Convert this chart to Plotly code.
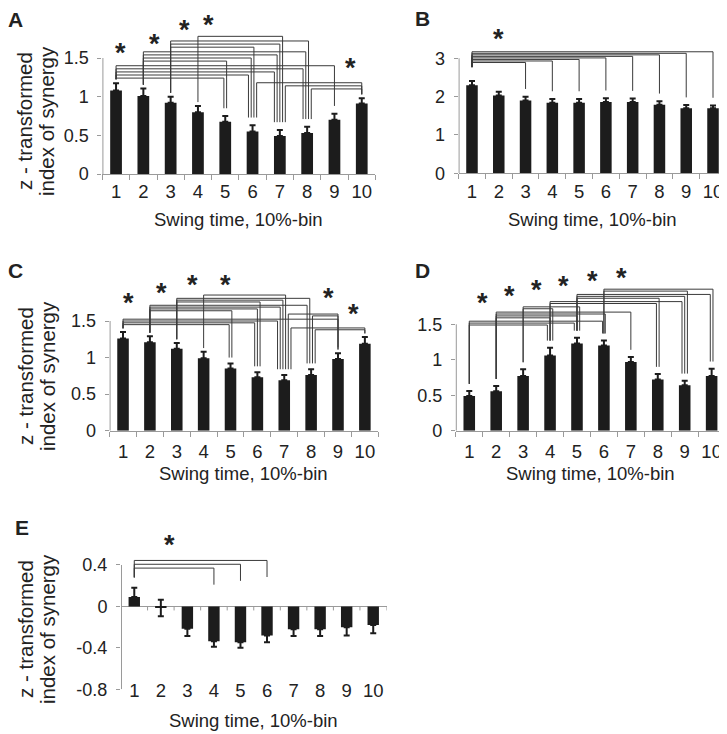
import plotly.graph_objects as go

# reference canvas (pixels) and page offset (browser body margin)
W, H = 727, 734
OFF = 8
FW, FH = W - OFF, H - OFF
FONT = "Liberation Sans, Arial, Helvetica, sans-serif"
BAR = "#1c1c1c"
AXIS = "#9a9a9a"
TXT = "#222222"
LINE = "#3a3a3a"

# ---------------- data ----------------
bins = [str(i) for i in range(1, 11)]
x_title = "Swing time, 10%-bin"
y_title_lines = ["z - transformed", "index of synergy"]

a_vals = [1.08, 1.01, 0.92, 0.80, 0.675, 0.55, 0.49, 0.53, 0.70, 0.91]
a_err = [0.095, 0.095, 0.08, 0.08, 0.075, 0.08, 0.08, 0.08, 0.08, 0.07]
a_ticks = [0, 0.5, 1, 1.5]
a_ticktext = ["0", "0.5", "1", "1.5"]
a_groups = [(10, [6, 7, 8]), (1, [5, 6, 7, 8, 9]), (2, [5, 6, 7, 8]), (3, [6, 7, 8]), (4, [7])]
a_star_x = [1.18, 2.41, 3.51, 4.39, 9.57]
a_star_y = [1.64, 1.755, 1.94, 2.01, 1.45]

b_vals = [2.30, 2.03, 1.90, 1.84, 1.84, 1.86, 1.86, 1.79, 1.70, 1.70]
b_err = [0.11, 0.10, 0.10, 0.10, 0.10, 0.10, 0.09, 0.09, 0.08, 0.07]
b_ticks = [0, 1, 2, 3]
b_ticktext = ["0", "1", "2", "3"]
b_groups = [(1, [3, 4, 5, 6, 7, 8, 9, 10])]
b_star_x = [1.98]
b_star_y = [3.65]

c_vals = [1.26, 1.21, 1.12, 0.99, 0.85, 0.73, 0.69, 0.76, 0.98, 1.19]
c_err = [0.09, 0.08, 0.08, 0.09, 0.07, 0.07, 0.07, 0.08, 0.08, 0.09]
c_ticks = [0, 0.5, 1, 1.5]
c_ticktext = ["0", "0.5", "1", "1.5"]
c_groups = [(10, [7, 8]), (1, [5, 6, 7, 9]), (9, [7, 8]), (2, [5, 6, 7, 8]), (3, [6, 7, 8]), (4, [7])]
c_star_x = [1.20, 2.43, 3.59, 4.82, 8.65, 9.59]
c_star_y = [1.83, 1.96, 2.08, 2.08, 1.89, 1.68]

d_vals = [0.49, 0.555, 0.77, 1.06, 1.23, 1.20, 0.97, 0.72, 0.64, 0.77]
d_err = [0.07, 0.075, 0.095, 0.11, 0.08, 0.07, 0.07, 0.08, 0.065, 0.105]
d_ticks = [0, 0.5, 1, 1.5]
d_ticktext = ["0", "0.5", "1", "1.5"]
d_groups = [(1, [4, 5, 6]), (2, [4, 5, 6, 7]), (3, [4, 5]), (4, [8, 9]), (5, [8, 9, 10]), (6, [9, 10])]
d_star_x = [1.48, 2.49, 3.48, 4.49, 5.59, 6.67]
d_star_y = [1.88, 1.98, 2.07, 2.12, 2.20, 2.24]

e_vals = [0.09, -0.015, -0.215, -0.335, -0.345, -0.28, -0.22, -0.22, -0.20, -0.18]
e_err = [0.09, 0.08, 0.07, 0.055, 0.055, 0.065, 0.065, 0.065, 0.08, 0.08]
e_ticks = [-0.8, -0.4, 0, 0.4]
e_ticktext = ["-0.8", "-0.4", "0", "0.4"]
e_groups = [(1, [4, 5, 6])]
e_star_x = [2.34]
e_star_y = [0.653]

# ---------------- layout parameters (reference pixel positions) ----------------
panels = [
    dict(label="A", vals=a_vals, err=a_err, ticks=a_ticks, ticktext=a_ticktext, groups=a_groups,
         sx=a_star_x, sy=a_star_y, xpx=(102.4, 375.4), ycal=(0, 174.0, 1.5, 58.0), yrange=(0, 2.12),
         axis_span=(0, 1.5), br=dict(base=1.10, step=0.04, gap=0.02, src=0.05, tgt=0.10, maxdrop=None),
         letter=(15.5, 20), ytitle_y=121, xtitle_y=219, ytitle=True, xstand=1),
    dict(label="B", vals=b_vals, err=b_err, ticks=b_ticks, ticktext=b_ticktext, groups=b_groups,
         sx=b_star_x, sy=b_star_y, xpx=(458.6, 726.4), ycal=(0, 173.3, 3, 58.3), yrange=(0, 3.75),
         axis_span=(0, 3), br=dict(base=2.89, step=0.04, gap=0.0, src=0.36, tgt=0.2, maxdrop=None),
         letter=(423, 19), ytitle_y=None, xtitle_y=219, ytitle=False, xstand=1),
    dict(label="C", vals=c_vals, err=c_err, ticks=c_ticks, ticktext=c_ticktext, groups=c_groups,
         sx=c_star_x, sy=c_star_y, xpx=(109.6, 378.3), ycal=(0, 430.7, 1.5, 321.0), yrange=(0, 2.15),
         axis_span=(0, 1.5), br=dict(base=1.38, step=0.025, gap=0.02, src=0.05, tgt=0.08, maxdrop=None),
         letter=(15.5, 270), ytitle_y=376, xtitle_y=473, ytitle=True, xstand=4),
    dict(label="D", vals=d_vals, err=d_err, ticks=d_ticks, ticktext=d_ticktext, groups=d_groups,
         sx=d_star_x, sy=d_star_y, xpx=(455.8, 725.1), ycal=(0, 430.7, 1.5, 324.3), yrange=(0, 2.3),
         axis_span=(0, 1.5), br=dict(base=1.49, step=0.027, gap=0.02, src=0.1, tgt=0.1, maxdrop=None),
         letter=(423, 270), ytitle_y=None, xtitle_y=473, ytitle=False, xstand=4),
    dict(label="E", vals=e_vals, err=e_err, ticks=e_ticks, ticktext=e_ticktext, groups=e_groups,
         sx=e_star_x, sy=e_star_y, xpx=(121.0, 386.5), ycal=(0.4, 565.0, -0.8, 689.3), yrange=(-0.8, 0.7),
         axis_span=(-0.8, 0.4), br=dict(base=0.37, step=0.037, gap=0.0, src=0.10, tgt=0.10, maxdrop=0.16),
         letter=(21.5, 527.5), ytitle_y=629, xtitle_y=720, ytitle=True, xstand=0),
]


def px_x(x):
    return (x - OFF) / FW


def px_y(y):
    return 1 - (y - OFF) / FH


def ydomain(ycal, yrange):
    v0, p0, v1, p1 = ycal
    k = (p0 - p1) / (v1 - v0)
    bottom = p0 + (v0 - yrange[0]) * k
    top = p0 - (yrange[1] - v0) * k
    return [px_y(bottom), px_y(top)], k


fig = go.Figure()
layout = dict(
    width=FW, height=FH, margin=dict(l=0, r=0, t=0, b=0, autoexpand=False),
    paper_bgcolor="white", plot_bgcolor="white",
    showlegend=False, bargap=0.57,
    font=dict(family=FONT, size=18, color=TXT),
)
shapes = []
annotations = []

for n, p in enumerate(panels, start=1):
    xa = "x" if n == 1 else f"x{n}"
    ya = "y" if n == 1 else f"y{n}"
    xkey = "xaxis" if n == 1 else f"xaxis{n}"
    ykey = "yaxis" if n == 1 else f"yaxis{n}"
    vals, err = p["vals"], p["err"]
    neg = p["label"] == "E"

    plus = [e if (v >= 0 or abs(v) < e) else 0 for v, e in zip(vals, err)]
    minus = [e if (v < 0 or abs(v) < e) else 0 for v, e in zip(vals, err)]

    fig.add_trace(go.Bar(
        x=bins, y=vals, xaxis=xa, yaxis=ya, marker=dict(color=BAR, line=dict(width=0)),
        error_y=dict(type="data", symmetric=False, array=plus, arrayminus=minus,
                     color=BAR, thickness=2, width=3),
        hoverinfo="x+y",
    ))

    ydom, kpx = ydomain(p["ycal"], p["yrange"])
    x0p, x1p = p["xpx"]
    xdict = dict(domain=[px_x(x0p), min(px_x(x1p), 1.0)], type="category", range=[-0.5, 9.5],
                 showgrid=False, zeroline=False, tickfont=dict(size=18.5, color=TXT),
                 tickangle=0, automargin=False, fixedrange=True)
    if neg:
        # tick labels sit at the bottom of the panel, axis line is the zero line
        xdict.update(anchor="free", position=px_y(677.0), showline=False, ticks="")
    else:
        xdict.update(anchor=ya, showline=True, linecolor=AXIS, linewidth=1,
                     ticks="outside", tickson="boundaries", ticklen=5, tickcolor=AXIS,
                     ticklabelstandoff=p["xstand"])
    layout[xkey] = xdict
    layout[ykey] = dict(
        domain=ydom, anchor=xa, range=list(p["yrange"]), showgrid=False,
        zeroline=neg, zerolinecolor=AXIS, zerolinewidth=1,
        showline=False, ticks="outside", ticklen=4, tickcolor=AXIS,
        tickmode="array", tickvals=p["ticks"], ticktext=p["ticktext"],
        tickfont=dict(size=18, color=TXT), ticklabelstandoff=5, automargin=False, fixedrange=True,
    )

    # y axis line (only up to the top tick)
    shapes.append(dict(type="line", xref=xa, yref=ya, x0=-0.5, x1=-0.5,
                       y0=p["axis_span"][0], y1=p["axis_span"][1],
                       line=dict(color=AXIS, width=2)))
    if neg:
        for k in range(11):
            shapes.append(dict(type="line", xref=xa, yref=ya, x0=k - 0.5, x1=k - 0.5,
                               y0=0, y1=-4.0 / kpx, line=dict(color=AXIS, width=1)))

    # significance brackets
    br = p["br"]

    def errtop(i):
        return max(vals[i - 1] + plus[i - 1], 0)

    incoming = {}
    for src, tg in p["groups"]:
        for t in tg:
            incoming.setdefault(t, []).append(src)
    for t in incoming:
        incoming[t].sort()

    cur = br["base"]
    for src, tg in p["groups"]:
        for t in sorted(tg, key=lambda t: abs(t - src)):
            level = cur
            cur += br["step"]
            srcs = incoming[t]
            off = (srcs.index(src) - (len(srcs) - 1) / 2) * 0.1
            xs, xt = src - 1, t - 1 + off
            ys0 = errtop(src) + br["src"]
            yt0 = errtop(t) + br["tgt"]
            if br["maxdrop"] is not None:
                yt0 = max(yt0, level - br["maxdrop"])
            for (ax0, ay0, ax1, ay1) in [(xs, ys0, xs, level), (xs, level, xt, level), (xt, level, xt, yt0)]:
                shapes.append(dict(type="line", xref=xa, yref=ya, x0=ax0, y0=ay0, x1=ax1, y1=ay1,
                                   line=dict(color=LINE, width=1)))
        cur += br["gap"]

    # asterisks
    for sx, sy in zip(p["sx"], p["sy"]):
        annotations.append(dict(xref=xa, yref=ya, x=sx - 1, y=sy, text="<b>*</b>", showarrow=False,
                                font=dict(size=27, color=TXT, family=FONT), yshift=-6))

    # panel letter
    lx, ly = p["letter"]
    annotations.append(dict(xref="paper", yref="paper", x=px_x(lx), y=px_y(ly),
                            text="<b>%s</b>" % p["label"], showarrow=False,
                            font=dict(size=21, color=TXT, family=FONT),
                            xanchor="center", yanchor="middle"))
    # x title
    annotations.append(dict(xref="paper", yref="paper", x=px_x((x0p + x1p) / 2), y=px_y(p["xtitle_y"]),
                            text=x_title, showarrow=False, font=dict(size=18.5, color=TXT, family=FONT),
                            xanchor="center", yanchor="middle"))
    # y title (two lines)
    if p["ytitle"]:
        for xpos, line in zip([25, 47], y_title_lines):
            annotations.append(dict(xref="paper", yref="paper", x=px_x(xpos), y=px_y(p["ytitle_y"]),
                                    text=line, textangle=-90, showarrow=False,
                                    font=dict(size=20.5, color=TXT, family=FONT),
                                    xanchor="center", yanchor="middle"))

layout["shapes"] = shapes
layout["annotations"] = annotations
fig.update_layout(**layout)
fig.write_html("out.html")
